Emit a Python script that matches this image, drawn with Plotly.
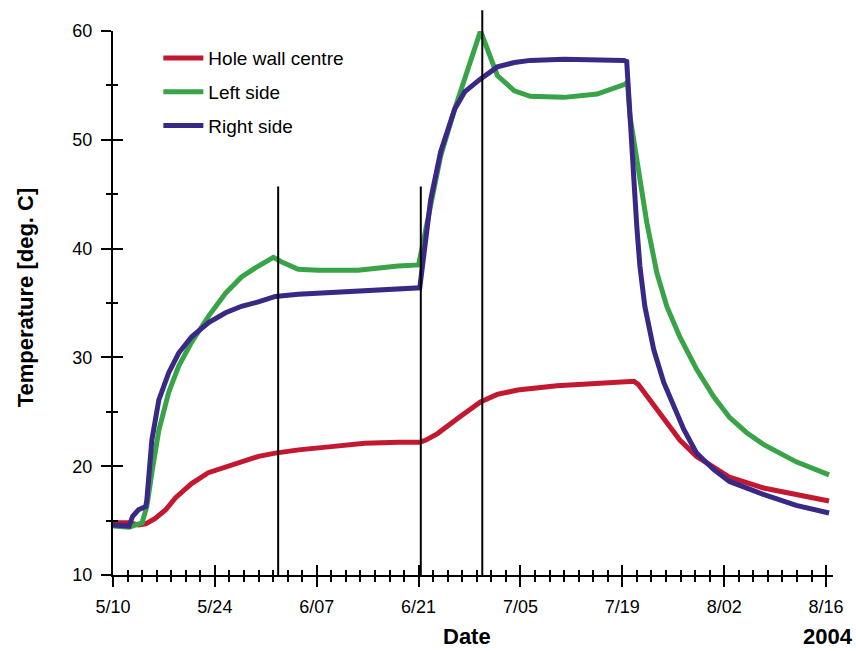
import pandas as pd
import plotly.graph_objects as go

# ---------------- data (days after 2004-05-10, temperature in deg C) ----------------
start_date = "2004-05-10"

hole_days = [0, 2.2, 3.5, 4.5, 5.8, 7.25, 8.6, 10.8, 13.1, 15.5, 17.7, 20.0, 22.3, 25.5, 30.0,
             34.6, 39.2, 42.2, 43.0, 44.6, 47.4, 50.5, 52.8, 55.6, 61.0, 66.5, 70.5, 71.6, 72.2,
             73.4, 75.7, 77.9, 80.2, 82.5, 84.7, 89.4, 93.9, 98.4]
hole_temp = [14.8, 14.8, 14.6, 14.7, 15.2, 16.0, 17.1, 18.4, 19.4, 19.9, 20.4, 20.9, 21.2, 21.5, 21.8,
             22.1, 22.2, 22.2, 22.4, 23.0, 24.4, 25.9, 26.6, 27.0, 27.4, 27.6, 27.8, 27.8, 27.5,
             26.4, 24.3, 22.4, 20.9, 19.9, 19.0, 18.0, 17.4, 16.8]

left_days = [0, 2.2, 4.0, 4.65, 5.34, 6.3, 7.66, 9.03, 10.81, 13.14, 15.47, 17.66, 19.98, 22.04,
             23.13, 25.46, 28.2, 33.67, 39.15, 42.0, 42.3, 43.66, 45.03, 46.95, 48.32, 50.51, 51.47,
             52.83, 55.16, 57.35, 62.0, 66.52, 70.35, 70.7, 71.04, 71.99, 73.36, 74.73, 76.1, 77.88,
             80.21, 82.54, 84.72, 87.05, 89.38, 93.9, 98.41]
left_temp = [14.5, 14.4, 14.8, 16.3, 19.4, 23.3, 26.8, 29.2, 31.4, 33.8, 35.9, 37.4, 38.4, 39.2,
             38.8, 38.1, 38.0, 38.0, 38.4, 38.5, 39.5, 43.9, 48.5, 52.8, 55.6, 60.0, 58.3,
             55.9, 54.5, 54.0, 53.9, 54.2, 55.1, 55.3, 52.2, 47.9, 42.4, 37.8, 34.7, 31.9,
             28.9, 26.4, 24.5, 23.1, 22.0, 20.4, 19.2]

right_days = [0, 2.2, 2.7, 3.5, 4.5, 4.65, 5.34, 6.3, 7.66, 9.03, 10.81, 13.14, 15.47, 17.66, 19.98,
              22.31, 25.46, 30.93, 36.41, 41.88, 42.16, 43.66, 45.03, 46.95, 48.32, 50.51, 52.83,
              55.16, 57.35, 62.0, 66.52, 70.22, 70.6, 71.04, 71.58, 71.99, 72.41, 73.09, 73.77,
              74.32, 75.69, 77.06, 78.43, 80.21, 82.54, 84.72, 89.38, 93.9, 98.41]
right_temp = [14.6, 14.5, 15.4, 16.0, 16.3, 16.9, 22.4, 26.1, 28.6, 30.4, 31.9, 33.2, 34.1, 34.7, 35.1,
              35.6, 35.8, 36.0, 36.2, 36.5, 36.4, 44.5, 48.9, 52.8, 54.4, 55.6, 56.7,
              57.1, 57.3, 57.4, 57.4, 57.3, 57.2, 51.6, 46.4, 42.0, 38.4, 34.7, 32.3,
              30.7, 27.7, 25.5, 23.4, 21.2, 19.7, 18.6, 17.4, 16.4, 15.7]

series_names = ["Hole wall centre", "Left side", "Right side"]
series_colors = ["#C21830", "#39A348", "#3A2886"]

# vertical event markers (days after start, top value in deg C)
event_days = [22.7, 42.3, 50.75]
event_tops = [45.7, 45.7, 61.9]

y_min, y_max = 10, 60
x_end_days = 98.95
year_label = "2004"

# ---------------- figure ----------------
base = pd.Timestamp(start_date)


def to_dates(days):
    return base + pd.to_timedelta(days, unit="D")


FONT = "Liberation Sans, Arial, sans-serif"
fig = go.Figure()

for name, color, d, t in zip(series_names, series_colors,
                             [hole_days, left_days, right_days],
                             [hole_temp, left_temp, right_temp]):
    fig.add_trace(go.Scatter(x=to_dates(d), y=t, mode="lines", name=name,
                             legendgroup=name,
                             line=dict(color=color, width=5)))

# dummy trace to carry the overlay axes (for crossing tick marks)
fig.add_trace(go.Scatter(x=[], y=[], xaxis="x2", yaxis="y2", showlegend=False, hoverinfo="skip"))

x_range = [base, base + pd.Timedelta(days=x_end_days)]
fourteen = 14 * 86400000
two = 2 * 86400000

common_x = dict(type="date", range=x_range, showgrid=False, zeroline=False,
                showline=True, linecolor="black", linewidth=2,
                tick0=start_date, dtick=fourteen, ticklen=10, tickwidth=1.5, tickcolor="black")
fig.update_layout(
    xaxis=dict(**common_x, ticks="outside", tickformat="%-m/%d", ticklabelstandoff=4,
               tickfont=dict(family=FONT, size=18, color="black"),
               minor=dict(tick0=start_date, dtick=two, ticks="outside", ticklen=5,
                          tickwidth=1.5, tickcolor="black", showgrid=False)),
    xaxis2=dict(**common_x, ticks="inside", overlaying="x", anchor="y", side="bottom",
                showticklabels=False,
                minor=dict(tick0=start_date, dtick=two, ticks="inside", ticklen=5,
                           tickwidth=1.5, tickcolor="black", showgrid=False)),
)

common_y = dict(range=[y_min, y_max], showgrid=False, zeroline=False, showline=True,
                linecolor="black", linewidth=2, tick0=0, dtick=10, ticklen=10,
                tickwidth=1.5, tickcolor="black")
fig.update_layout(
    yaxis=dict(**common_y, ticks="outside", ticklabelstandoff=5,
               tickfont=dict(family=FONT, size=18, color="black"),
               minor=dict(dtick=5, ticks="outside", ticklen=5, tickwidth=1.5,
                          tickcolor="black", showgrid=False)),
    yaxis2=dict(**common_y, ticks="inside", overlaying="y", anchor="x", side="left",
                showticklabels=False,
                minor=dict(dtick=5, ticks="inside", ticklen=5, tickwidth=1.5,
                           tickcolor="black", showgrid=False)),
)

# vertical event lines
for d, top in zip(event_days, event_tops):
    xd = base + pd.Timedelta(days=d)
    fig.add_shape(type="line", xref="x", yref="paper", x0=xd, x1=xd,
                  y0=0, y1=(top - y_min) / (y_max - y_min),
                  line=dict(color="black", width=2), layer="above")

fig.update_layout(
    width=856, height=651,
    margin=dict(l=113, r=20, t=31, b=76),
    plot_bgcolor="white", paper_bgcolor="white",
    font=dict(family=FONT, color="black"),
    showlegend=True,
    legend=dict(x=0.063, y=0.985, xanchor="left", yanchor="top",
                bgcolor="rgba(0,0,0,0)", font=dict(family=FONT, size=19, color="black"),
                tracegroupgap=6, itemwidth=40),
    annotations=[
        dict(text="<b>Temperature [deg. C]</b>", xref="paper", yref="paper",
             x=(25 - 113) / 723, y=(575 - 297) / 544, textangle=-90, showarrow=False,
             font=dict(family=FONT, size=22, color="black"), xanchor="center", yanchor="middle"),
        dict(text="<b>Date</b>", xref="paper", yref="paper",
             x=(468 - 113) / 723, y=(575 - 636) / 544, showarrow=False,
             font=dict(family=FONT, size=22, color="black"), xanchor="center", yanchor="middle"),
        dict(text="<b>" + year_label + "</b>", xref="paper", yref="paper",
             x=(858 - 113) / 723, y=(575 - 636) / 544, showarrow=False,
             font=dict(family=FONT, size=22, color="black"), xanchor="right", yanchor="middle"),
    ],
)

fig.write_html("out.html")
